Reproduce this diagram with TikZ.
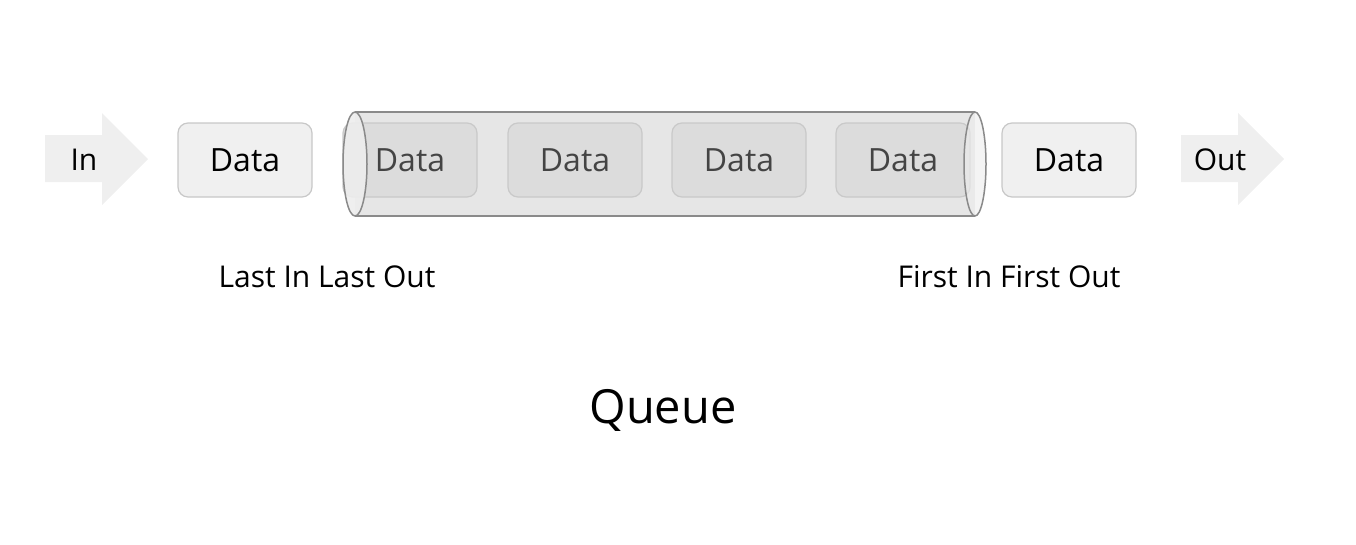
\documentclass[tikz,border=0pt]{standalone}
\usepackage{fontspec}
\setmainfont{Open Sans}
\usepackage{tikz}

\definecolor{ArrowFill}{HTML}{EFEFEF}
\definecolor{BoxFill}{HTML}{F0F0F0}
\definecolor{BoxLine}{HTML}{C8C8C8}
\definecolor{TubeFill}{HTML}{E6E6E6}
\definecolor{TubeLine}{HTML}{8A8A8A}
\definecolor{TubeBoxFill}{HTML}{DCDCDC}
\definecolor{TubeBoxLine}{HTML}{C9C9C9}
\definecolor{TubeText}{HTML}{444444}

\begin{document}
\begin{tikzpicture}[x=1pt,y=-1pt,
  databox/.style={draw=BoxLine, fill=BoxFill, rounded corners=10pt, line width=1.2pt,
    minimum width=134pt, minimum height=74pt, text=black, font=\fontsize{32}{38}\selectfont},
  tubebox/.style={databox, fill=TubeBoxFill, draw=TubeBoxLine, text=TubeText},
  arrowtext/.style={text=black, font=\fontsize{30}{36}\selectfont},
  qlabel/.style={text=black, font=\fontsize{30}{36}\selectfont}]

\useasboundingbox (0,0) rectangle (1356,544);

%% Block arrow, drawn from the upper left corner of its shaft
%% shaft 57 long and 47 high, head 46 long and 94 high
\def\QueueArrow{%
		-- ++(57,0) -- ++(0,-22) -- ++(46,46) -- ++(-46,46) -- ++(0,-23) -- ++(-57,0) -- cycle
}

%% In / Out arrows
\fill[ArrowFill] (45,135) \QueueArrow ;
\fill[ArrowFill] (1181,135) \QueueArrow ;
\node[arrowtext] (in) at (84,160) {In};
\node[arrowtext] (out) at (1220,160) {Out};

%% the tube, body first
\fill[TubeFill] (355,112) rectangle (975,216);

%% data inside the tube
\node[tubebox] (d2) at (410,160) {Data};
\node[tubebox] (d3) at (575,160) {Data};
\node[tubebox] (d4) at (739,160) {Data};
\node[tubebox] (d5) at (903,160) {Data};

%% tube ends and outline on top
\fill[TubeFill!70!white, opacity=0.9] (355,164) ellipse (12pt and 52pt);
\fill[TubeFill!70!white, opacity=0.6] (975,164) ellipse (11pt and 52pt);
\draw[TubeLine, line width=1.5pt] (355,112) -- (975,112);
\draw[TubeLine, line width=1.5pt] (355,216) -- (975,216);
\draw[TubeLine, line width=1.5pt] (355,164) ellipse (12pt and 52pt);
\draw[TubeLine, line width=1.5pt] (975,164) ellipse (11pt and 52pt);

%% data outside the tube
\node[databox] (d1) at (245,160) {Data};
\node[databox] (d6) at (1069,160) {Data};

%% labels
\node[qlabel] (lilo) at (327,277) {Last In Last Out};
\node[qlabel] (fifo) at (1009,277) {First In First Out};
\node[text=black, font=\fontsize{47}{56}\selectfont] (queue) at (663,410) {Queue};

\end{tikzpicture}
\end{document}
